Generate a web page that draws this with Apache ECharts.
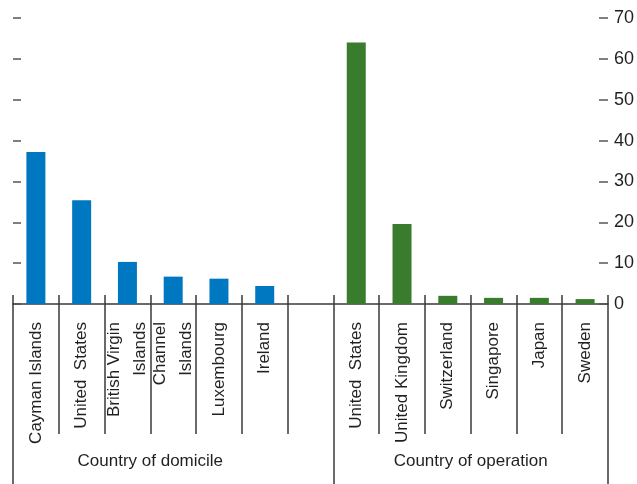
<!DOCTYPE html>
<html>
<head>
<meta charset="utf-8">
<script src="https://cdn.jsdelivr.net/npm/echarts@6/dist/echarts.min.js"></script>
<style>
  html, body { margin: 0; padding: 0; background: #fff; }
  #chart { width: 637px; height: 484px; }
</style>
</head>
<body>
<div id="chart"></div>
<script>
// Categories: six domicile countries, one blank spacer, six operation countries
const categories = [
  'Cayman Islands', 'United  States', 'British Virgin\nIslands', 'Channel\nIslands',
  'Luxembourg', 'Ireland', '',
  'United  States', 'United Kingdom', 'Switzerland', 'Singapore', 'Japan', 'Sweden'
];
const domicileValues = [37.2, 25.4, 10.3, 6.7, 6.2, 4.4];
const operationValues = [64.0, 19.6, 2.0, 1.5, 1.5, 1.2];
const groupLabels = ['Country of domicile', 'Country of operation'];
const yTicks = [0, 10, 20, 30, 40, 50, 60, 70];

const blank = '-';
const domicileSeries = categories.map((c, i) => i < domicileValues.length ? domicileValues[i] : blank);
const operationSeries = categories.map((c, i) => {
  const k = i - (domicileValues.length + 1);
  return k >= 0 && k < operationValues.length ? operationValues[k] : blank;
});

const SANS = '"Liberation Sans", Arial, sans-serif';
const TEXT = '#231f20';
const LINE = '#3a3a3a';
const n = categories.length;
const groupSplits = [0, domicileValues.length + 1, n];
const groupCenters = [domicileValues.length / 2, domicileValues.length + 1 + operationValues.length / 2];

const chart = echarts.init(document.getElementById('chart'), null, { renderer: 'canvas' });
chart.setOption({
  animation: false,
  grid: { left: 13, right: 26, top: 18, bottom: 180, containLabel: false },
  xAxis: [
    {
      // main category axis with short ticks above the baseline
      type: 'category',
      data: categories,
      boundaryGap: true,
      axisLine: { show: true, lineStyle: { color: LINE, width: 1.5 } },
      axisTick: { show: true, inside: true, length: 9, interval: 0, lineStyle: { color: LINE, width: 1.5 } },
      axisLabel: {
        interval: 0, rotate: 90, margin: 18,
        fontFamily: SANS, fontSize: 17, color: TEXT, lineHeight: 26
      },
      splitLine: { show: false }
    },
    {
      // long separators between category labels
      type: 'category',
      data: categories,
      position: 'bottom',
      boundaryGap: true,
      axisLine: { show: false },
      axisTick: { show: true, length: 130, interval: 0, lineStyle: { color: LINE, width: 1.5 } },
      axisLabel: { show: false },
      splitLine: { show: false }
    },
    {
      // group separators and group titles
      type: 'value',
      min: 0, max: n,
      position: 'bottom',
      axisLine: { show: false },
      axisTick: { show: true, length: 190, customValues: groupSplits, lineStyle: { color: LINE, width: 1.5 } },
      axisLabel: {
        show: true, margin: 149,
        customValues: groupCenters,
        formatter: (v) => v === groupCenters[0] ? groupLabels[0] : (v === groupCenters[1] ? groupLabels[1] : ''),
        fontFamily: SANS, fontSize: 17, color: TEXT
      },
      splitLine: { show: false }
    }
  ],
  yAxis: [
    {
      type: 'value',
      min: 0, max: 70, interval: 10,
      position: 'left',
      axisLine: { show: false },
      axisTick: { show: true, inside: true, length: 8, lineStyle: { color: '#555', width: 1.5 } },
      axisLabel: { show: false },
      splitLine: { show: false }
    },
    {
      type: 'value',
      min: 0, max: 70, interval: 10,
      position: 'right',
      axisLine: { show: false },
      axisTick: { show: true, inside: true, length: 9, lineStyle: { color: '#555', width: 1.5 } },
      axisLabel: {
        show: true, margin: 6,
        customValues: yTicks,
        fontFamily: SANS, fontSize: 18, color: TEXT
      },
      splitLine: { show: false }
    }
  ],
  series: [
    {
      type: 'bar', name: 'domicile',
      xAxisIndex: 0, yAxisIndex: 0,
      data: domicileSeries,
      barWidth: 19, barGap: '-100%',
      itemStyle: { color: '#0078c1' }
    },
    {
      type: 'bar', name: 'operation',
      xAxisIndex: 0, yAxisIndex: 0,
      data: operationSeries,
      barWidth: 19, barGap: '-100%',
      itemStyle: { color: '#3a7c2d' }
    }
  ]
});
</script>
</body>
</html>
